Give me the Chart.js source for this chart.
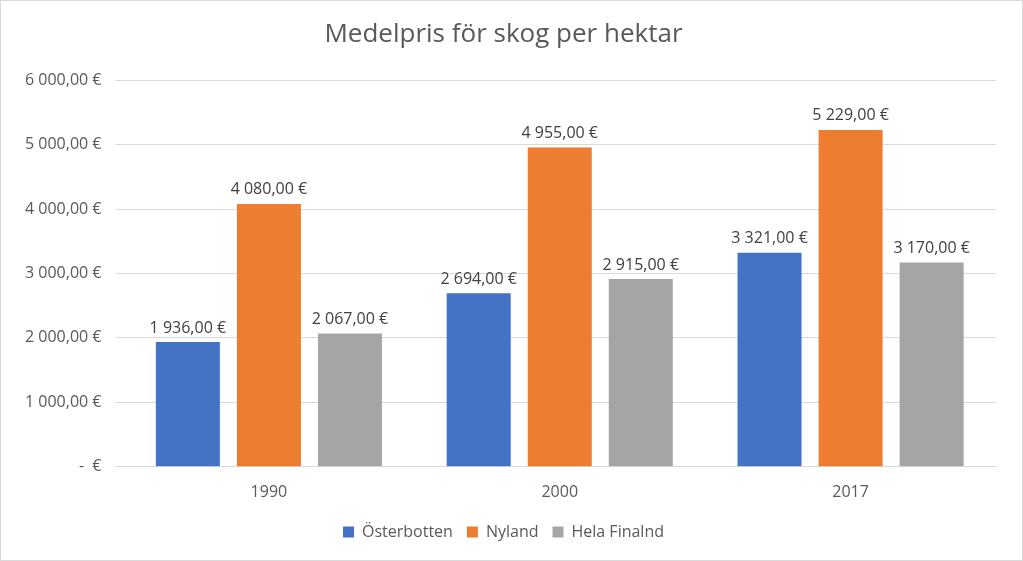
<!DOCTYPE html>
<html><head><meta charset="utf-8">
<script src="https://cdn.jsdelivr.net/npm/chart.js@4"></script>
<style>html,body{margin:0;padding:0;background:#fff}#w{width:1021px;height:559px;border:1px solid #d9d9d9;position:relative}</style>
</head><body><div id="w"><canvas id="c"></canvas></div>
<script>
const categories = ["1990","2000","2017"];
const osterbotten = [1936,2694,3321];
const nyland = [4080,4955,5229];
const helaFinland = [2067,2915,3170];
const seriesNames = ["Österbotten","Nyland","Hela Finalnd"];
const fmt = v => v===0 ? "-  €" : (v.toFixed(2).replace('.',',').replace(/\B(?=(\d{3})+(?!\d))/g,' ')+' €');
const labelPlugin = {id:'lbl',afterDatasetsDraw(ch){const c=ch.ctx;c.save();c.font='16px "Open Sans", "Liberation Sans", sans-serif';c.fillStyle='#404040';c.textAlign='center';c.textBaseline='bottom';
ch.data.datasets.forEach((d,i)=>{ch.getDatasetMeta(i).data.forEach((b,j)=>{c.fillText(fmt(d.data[j]),b.x,b.y-6);});});c.restore();}};
new Chart(document.getElementById('c'),{type:'bar',
data:{labels:categories,datasets:[
{label:seriesNames[0],data:osterbotten,backgroundColor:'#4472c4'},
{label:seriesNames[1],data:nyland,backgroundColor:'#ed7d31'},
{label:seriesNames[2],data:helaFinland,backgroundColor:'#a5a5a5'}]},
options:{responsive:true,maintainAspectRatio:false,animation:false,
categoryPercentage:0.836,barPercentage:0.79,
layout:{padding:{left:10,right:26,top:10,bottom:10}},
plugins:{title:{display:true,text:'Medelpris för skog per hektar',color:'#595959',font:{size:26,family:'"Open Sans", "Liberation Sans", sans-serif',weight:'normal'},padding:{top:8,bottom:30}},
legend:{position:'bottom',labels:{color:'#595959',font:{size:16,family:'"Open Sans", sans-serif'},boxWidth:11,boxHeight:11,padding:14}},tooltip:{enabled:false}},
scales:{x:{grid:{display:false},border:{color:'#d9d9d9'},ticks:{color:'#595959',font:{size:16,family:'"Open Sans", sans-serif'},padding:8}},
y:{min:0,max:6000,ticks:{stepSize:1000,color:'#595959',font:{size:16,family:'"Open Sans", sans-serif'},callback:v=>fmt(v),padding:14},grid:{color:'#d9d9d9'},border:{display:false}}}},
plugins:[labelPlugin]});
</script></body></html>
